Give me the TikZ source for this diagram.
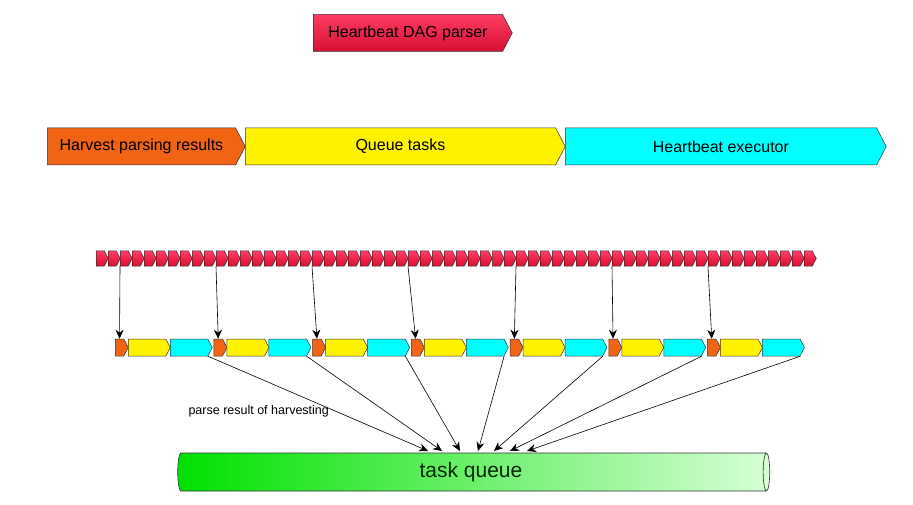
\documentclass[tikz,border=0pt]{standalone}
\usepackage{fontspec}
\setmainfont{Liberation Sans}
\usetikzlibrary{shapes.symbols,shapes.geometric,arrows.meta}
\definecolor{cy}{RGB}{0,255,255}
\definecolor{og}{RGB}{240,100,20}
\definecolor{rt}{RGB}{255,60,100}
\definecolor{rb}{RGB}{215,15,50}
\begin{document}
\begin{tikzpicture}[x=1pt,y=-1pt,
  chev/.style={signal,signal to=east,draw=black!80,line width=0.5pt,inner sep=0pt,anchor=west,signal pointer angle=125},
  big/.style={chev,minimum height=37pt,font=\fontsize{16}{19}\selectfont},
  redc/.style={chev,minimum height=15pt,minimum width=12pt,top color=rt,bottom color=rb},
  mid/.style={chev,minimum height=17pt},
  arr/.style={-{Stealth[length=9pt,width=8pt]},line width=0.6pt}]
\path[fill=white] (0,0) rectangle (913,505);
\node[big,minimum width=199pt,top color=rt,bottom color=rb] (dag) at (313,33) {Heartbeat DAG parser};
\node[big,minimum width=198pt,fill=og] (hv) at (47,146.5) {Harvest parsing results};
\node[big,minimum width=320pt,fill=yellow] (qt) at (245,146.5) {Queue tasks};
\node[big,minimum width=321pt,fill=cy] (he) at (565,146.5) {Heartbeat executor};
\foreach \k in {1,...,60}{
  \node[redc] (r\k) at ({96+12*(\k-1)},258.5) {};
}
\foreach \j/\k in {1/3,2/11,3/19,4/27,5/36,6/44,7/52}{
  \node[mid,minimum width=13pt,fill=og] (o\j) at ({115+98.7*(\j-1)},347.5) {};
  \node[mid,minimum width=42pt,fill=yellow] (y\j) at ({128+98.7*(\j-1)},347.5) {};
  \node[mid,minimum width=42pt,fill=cy] (c\j) at ({170+98.7*(\j-1)},347.5) {};
  \draw[arr] (r\k.south west) -- (o\j.north);
}
\node[cylinder,shape border rotate=0,aspect=0.25,minimum width=38pt,minimum height=592pt,draw=black!80,line width=0.6pt,
  left color={rgb,255:red,0;green,225;blue,0},right color={rgb,255:red,215;green,255;blue,215},
  font=\fontsize{21}{25}\selectfont,text=black!85!green] (q) at (471,472) {task queue};
\foreach \j/\t in {1/428,2/442,3/460,4/478,5/494,6/510,7/527}{
  \coordinate (t\j) at (\t,451);
  \draw[arr] (c\j.south east) -- (t\j);
}
\node[font=\fontsize{12.5}{15}\selectfont,anchor=west] (lbl) at (185,411) {parse result of harvesting};
\end{tikzpicture}
\end{document}
